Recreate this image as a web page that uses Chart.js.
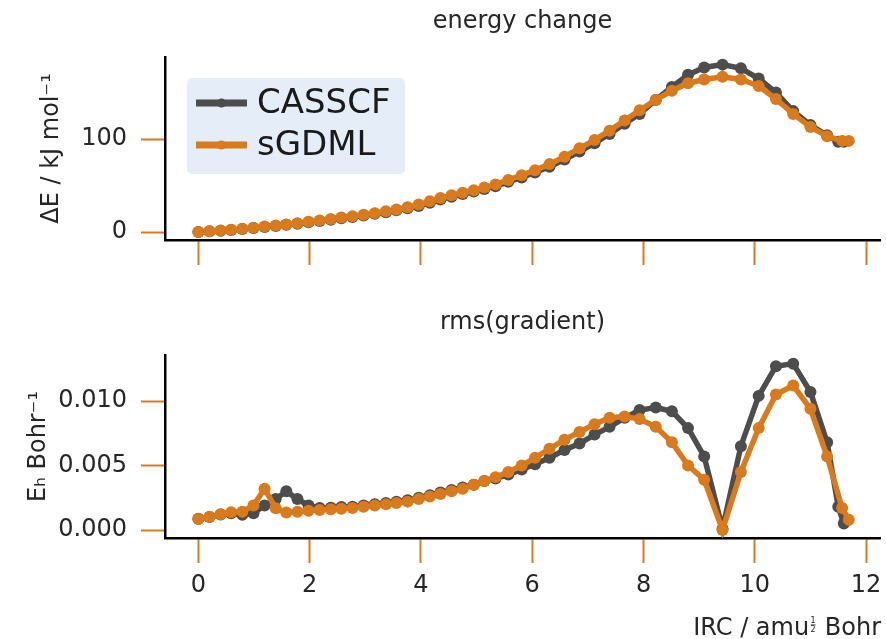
<!DOCTYPE html>
<html>
<head>
<meta charset="utf-8">
<script src="https://cdn.jsdelivr.net/npm/chart.js@4.4.1/dist/chart.umd.min.js"></script>
<style>
  body { margin: 0; background: #fff; }
  #wrap { position: relative; width: 886px; height: 639px; }
  canvas { position: absolute; left: 0; }
  #top { top: 0; }
  #bottom { top: 300px; }
</style>
</head>
<body>
<div id="wrap">
  <canvas id="top" width="886" height="300"></canvas>
  <canvas id="bottom" width="886" height="339"></canvas>
</div>
<script>
// IRC coordinate (shared part), then the last two points of each run
const irc = [0, 0.2, 0.4, 0.59, 0.79, 0.99, 1.19, 1.39, 1.58, 1.78, 1.98, 2.18, 2.38, 2.57,
  2.77, 2.97, 3.17, 3.37, 3.56, 3.76, 3.96, 4.16, 4.35, 4.55, 4.75, 4.95, 5.14, 5.34,
  5.57, 5.81, 6.05, 6.31, 6.58, 6.85, 7.12, 7.39, 7.66, 7.93, 8.22, 8.51, 8.8, 9.09,
  9.42, 9.75, 10.07, 10.38, 10.69, 11.0, 11.3];
const ircEndCasscf = [11.5, 11.6];
const ircEndSgdml = [11.57, 11.69];

// energy change, kJ/mol
const energyCasscf = [0, 0.7, 1.4, 2.2, 3.1, 4.2, 5.3, 6.5, 7.7, 9.0, 10.4, 11.8, 13.2, 14.7,
  16.2, 17.8, 19.5, 21.3, 23.3, 25.5, 28.0, 31.5, 35.0, 38.0, 40.8, 43.5, 46.3, 49.3,
  54, 58.7, 64, 70.3, 78, 86.5, 95.5, 105.5, 116.5, 127, 142, 156, 169, 177,
  180, 176, 165, 150, 130, 115, 104, 97, 97];
const energySgdml = [0, 0.8, 1.6, 2.5, 3.4, 4.6, 5.8, 7.0, 8.2, 9.5, 11.0, 12.5, 14.0, 15.5,
  17.0, 18.6, 20.3, 22.2, 24.2, 26.5, 29.5, 33.0, 36.5, 39.5, 42.3, 45.0, 47.8, 51.0,
  56, 61, 66.5, 73, 81, 90, 99, 109, 120, 131, 142, 152, 160, 164,
  167, 164, 157, 143, 127, 113, 103, 98, 98];

// rms(gradient), Eh/Bohr
const gradCasscf = [0.00088, 0.001, 0.0012, 0.0013, 0.00118, 0.0013, 0.0019, 0.0024, 0.003, 0.0024,
  0.0019, 0.0017, 0.00172, 0.00178, 0.0018, 0.0019, 0.002, 0.0021, 0.0022, 0.0023, 0.0025,
  0.0027, 0.0029, 0.0031, 0.0033, 0.0035, 0.0038, 0.004,
  0.0043, 0.0047, 0.0051, 0.0056, 0.0062, 0.0067, 0.0074, 0.008, 0.0087, 0.0093, 0.0095,
  0.0092, 0.0079, 0.0057, 0.0001, 0.0065, 0.0104, 0.0127, 0.0129, 0.0107, 0.0068, 0.0018, 0.0005];
const gradSgdml = [0.00085, 0.00103, 0.00122, 0.00137, 0.00142, 0.0019, 0.0032, 0.00168, 0.00135,
  0.00142, 0.0015, 0.00155, 0.0016, 0.00165, 0.0017, 0.0018, 0.0019, 0.002, 0.0021, 0.0022,
  0.0024, 0.0026, 0.0028, 0.003, 0.0032, 0.0035, 0.0038, 0.0041,
  0.0045, 0.005, 0.0056, 0.0063, 0.007, 0.0076, 0.0082, 0.0087, 0.0088, 0.0086, 0.008,
  0.0068, 0.005, 0.0039, 0.0, 0.0045, 0.0079, 0.0105, 0.0112, 0.0094, 0.0057, 0.0017, 0.0008];

const xTicks = [0, 2, 4, 6, 8, 10, 12];
const energyTicks = [0, 100];
const gradTicks = [0, 0.005, 0.010];

const FONT = "'DejaVu Sans', sans-serif";
const GRAY = '#4d4d4d';
const ORANGE = '#d97a1c';
const TEXT = '#262626';

const xCasscf = irc.concat(ircEndCasscf);
const xSgdml = irc.concat(ircEndSgdml);
const pts = (xs, ys) => xs.map((x, i) => ({ x: x, y: ys[i] }));

function series(label, color, data, order) {
  return {
    label: label,
    data: data,
    borderColor: color,
    backgroundColor: color,
    pointBackgroundColor: color,
    borderWidth: 5.5,
    pointRadius: 6,
    pointBorderWidth: 0,
    pointHoverRadius: 6,
    tension: 0,
    order: order
  };
}

// titles, legend and x label drawn straight onto the canvas
const panelText = {
  id: 'panelText',
  afterDraw(chart, args, opts) {
    const ctx = chart.ctx, a = chart.chartArea;
    ctx.save();
    ctx.fillStyle = TEXT;
    ctx.font = '24px ' + FONT;
    ctx.textAlign = 'center';
    ctx.textBaseline = 'middle';
    ctx.fillText(opts.title, (a.left + a.right) / 2, opts.titleY);

    if (opts.legend) {
      ctx.fillStyle = '#e5edf8';
      ctx.beginPath();
      ctx.roundRect(187, 78, 218, 96, 5);
      ctx.fill();
      const rows = [103, 145];
      chart.data.datasets.forEach((ds, i) => {
        const y = rows[i];
        ctx.strokeStyle = ds.borderColor;
        ctx.lineWidth = 7;
        ctx.beginPath();
        ctx.moveTo(196, y);
        ctx.lineTo(247, y);
        ctx.stroke();
        ctx.fillStyle = ds.borderColor;
        ctx.beginPath();
        ctx.arc(221.5, y, 4.5, 0, Math.PI * 2);
        ctx.fill();
        ctx.fillStyle = '#1a1a1a';
        ctx.font = '34px ' + FONT;
        ctx.textAlign = 'left';
        ctx.fillText(ds.label, 257, y + 1);
      });
    }

    if (opts.xlabel) {
      const base = 335;
      ctx.fillStyle = TEXT;
      ctx.font = '24px ' + FONT;
      ctx.textAlign = 'left';
      ctx.textBaseline = 'alphabetic';
      const p1 = 'IRC / amu', p2 = ' Bohr';
      const w1 = ctx.measureText(p1).width, w2 = ctx.measureText(p2).width;
      const fw = 8;
      const x0 = 881 - (w1 + fw + w2);
      ctx.fillText(p1, x0, base);
      ctx.fillText(p2, x0 + w1 + fw, base);
      const fx = x0 + w1 + fw / 2;
      ctx.font = '8px ' + FONT;
      ctx.textAlign = 'center';
      ctx.fillText('1', fx, base - 12);
      ctx.fillText('2', fx, base - 3);
      ctx.fillRect(fx - 2.5, base - 10.5, 5, 0.8);
    }
    ctx.restore();
  }
};

function makeChart(id, opt) {
  return new Chart(document.getElementById(id), {
    type: 'line',
    data: {
      datasets: [
        series('CASSCF', GRAY, pts(xCasscf, opt.cas), 1),
        series('sGDML', ORANGE, pts(xSgdml, opt.sg), 0)
      ]
    },
    options: {
      responsive: false,
      animation: false,
      devicePixelRatio: 1,
      layout: { padding: { top: opt.top, left: 0, right: 0, bottom: 0 } },
      plugins: {
        legend: { display: false },
        tooltip: { enabled: false },
        panelText: { title: opt.title, titleY: opt.titleY, legend: opt.legend, xlabel: opt.xlabel }
      },
      scales: {
        x: {
          type: 'linear',
          min: -0.6,
          max: 12.25,
          afterBuildTicks: s => { s.ticks = xTicks.map(v => ({ value: v })); },
          afterFit: s => { s.height = opt.xHeight; s.paddingLeft = 0; s.paddingRight = 0; },
          ticks: { display: opt.xlabel, padding: 8, color: TEXT, font: { family: FONT, size: 24 } },
          grid: { drawOnChartArea: false, drawTicks: true, tickLength: 25, tickColor: ORANGE, tickWidth: 2 },
          border: { display: true, color: '#000', width: 2.5 }
        },
        y: {
          min: opt.ymin,
          max: opt.ymax,
          afterBuildTicks: s => { s.ticks = opt.yTicks.map(v => ({ value: v })); },
          afterFit: s => { s.width = 165; s.paddingTop = 0; s.paddingBottom = 0; },
          ticks: { padding: 14, color: TEXT, font: { family: FONT, size: 24 }, callback: opt.fmt },
          grid: { drawOnChartArea: false, drawTicks: true, tickLength: 24, tickColor: ORANGE, tickWidth: 2 },
          border: { display: true, color: '#000', width: 2.5 },
          title: {
            display: true, text: opt.ytitle, color: TEXT,
            font: { family: FONT, size: 24 }, padding: { top: opt.ytitlePad, bottom: 0 }
          }
        }
      }
    },
    plugins: [panelText]
  });
}

makeChart('top', {
  cas: energyCasscf, sg: energySgdml,
  top: 57, xHeight: 60, ymin: -8.6, ymax: 188.2, yTicks: energyTicks,
  fmt: v => String(v),
  ytitle: 'ΔE / kJ mol⁻¹', ytitlePad: 37,
  title: 'energy change', titleY: 22, legend: true, xlabel: false
});

makeChart('bottom', {
  cas: gradCasscf, sg: gradSgdml,
  top: 55, xHeight: 101, ymin: -0.00062, ymax: 0.01357, yTicks: gradTicks,
  fmt: v => Number(v).toFixed(3),
  ytitle: 'Eₕ Bohr⁻¹', ytitlePad: 24,
  title: 'rms(gradient)', titleY: 23, legend: false, xlabel: true
});
</script>
</body>
</html>
